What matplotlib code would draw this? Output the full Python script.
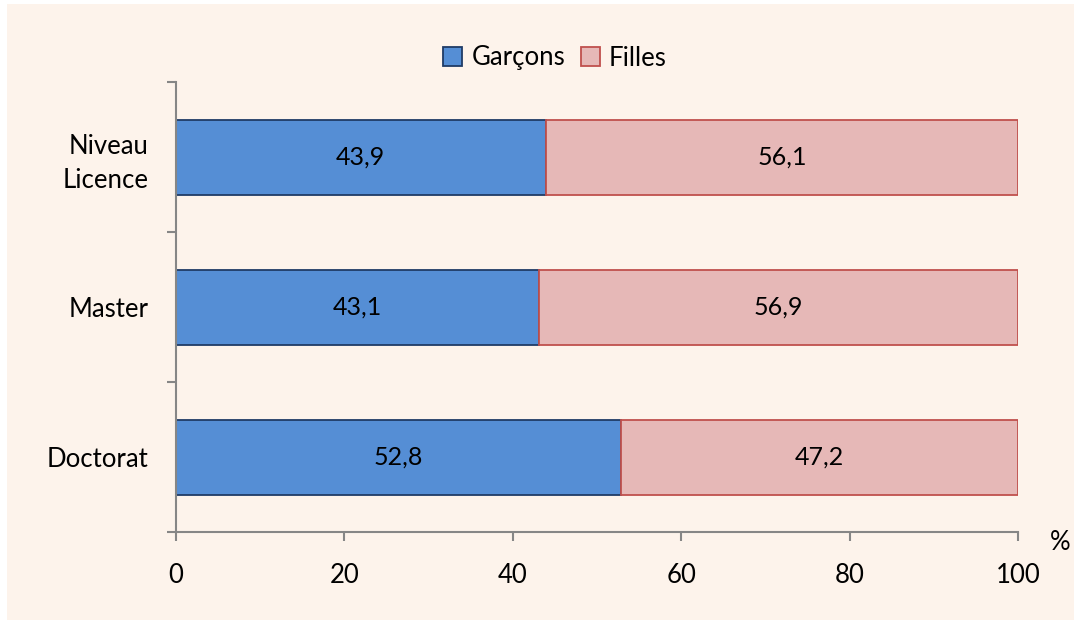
import matplotlib
matplotlib.use("Agg")
import matplotlib.pyplot as plt
from matplotlib.patches import Rectangle, Patch

plt.rcParams['font.family'] = ['Lato', 'DejaVu Sans']

categories = ["Doctorat", "Master", "Niveau\nLicence"]
garcons = [52.8, 43.1, 43.9]
filles = [47.2, 56.9, 56.1]
series_names = ["Garçons", "Filles"]
xticks = [0, 20, 40, 60, 80, 100]

W, H = 1074, 620
fig = plt.figure(figsize=(W / 100, H / 100), dpi=100, facecolor="white")
bg = "#FDF3EB"
fig.patches.append(Rectangle((7 / W, 0), 1 - 7 / W, 1 - 4 / H, transform=fig.transFigure,
                             facecolor=bg, edgecolor="none", zorder=-10))

ax = fig.add_axes([176 / W, 1 - 532 / H, (1018 - 176) / W, (532 - 82) / H])
ax.set_facecolor("none")

blue, blue_edge = "#558ED5", "#1F3B66"
pink, pink_edge = "#E6B8B7", "#C0504D"

FS = 18.5

y = list(range(len(categories)))
b1 = ax.barh(y, garcons, height=0.5, color=blue, edgecolor=blue_edge, linewidth=1.3)
b2 = ax.barh(y, filles, left=garcons, height=0.5, color=pink, edgecolor=pink_edge, linewidth=1.3)

for i in y:
    ax.text(garcons[i] / 2, i, f"{garcons[i]:.1f}".replace(".", ","), ha="center", va="center", fontsize=FS - 0.5)
    ax.text(garcons[i] + filles[i] / 2, i, f"{filles[i]:.1f}".replace(".", ","), ha="center", va="center", fontsize=FS - 0.5)

ax.set_xlim(0, 100)
ax.set_ylim(-0.5, len(categories) - 0.5)
ax.set_xticks(xticks)
ax.set_xticklabels([str(t) for t in xticks], fontsize=FS)
ax.set_yticks(y)
ax.set_yticklabels(categories, fontsize=FS, linespacing=1.45)
ax.set_yticks([i - 0.5 for i in range(len(categories) + 1)], minor=True)
ax.tick_params(axis="y", which="major", length=0, pad=20)
ax.tick_params(axis="y", which="minor", length=6.5, color="#868686", width=1.5)
ax.tick_params(axis="x", length=6.5, color="#868686", width=1.5, pad=16)

for s in ["top", "right"]:
    ax.spines[s].set_visible(False)
for s in ["left", "bottom"]:
    ax.spines[s].set_color("#868686")
    ax.spines[s].set_linewidth(1.5)

fig.text(1060 / W, 1 - 542 / H, "%", ha="center", va="center", fontsize=FS)

handles = [Patch(facecolor=blue, edgecolor=blue_edge, linewidth=1.3),
           Patch(facecolor=pink, edgecolor=pink_edge, linewidth=1.3)]
fig.legend(handles, series_names, loc="center", bbox_to_anchor=(555 / W, 1 - 58 / H),
           ncol=2, frameon=False, fontsize=FS, handlelength=0.75, handleheight=0.75,
           handletextpad=0.35, columnspacing=0.6)

fig.savefig("out.png", dpi=100, facecolor="white")
